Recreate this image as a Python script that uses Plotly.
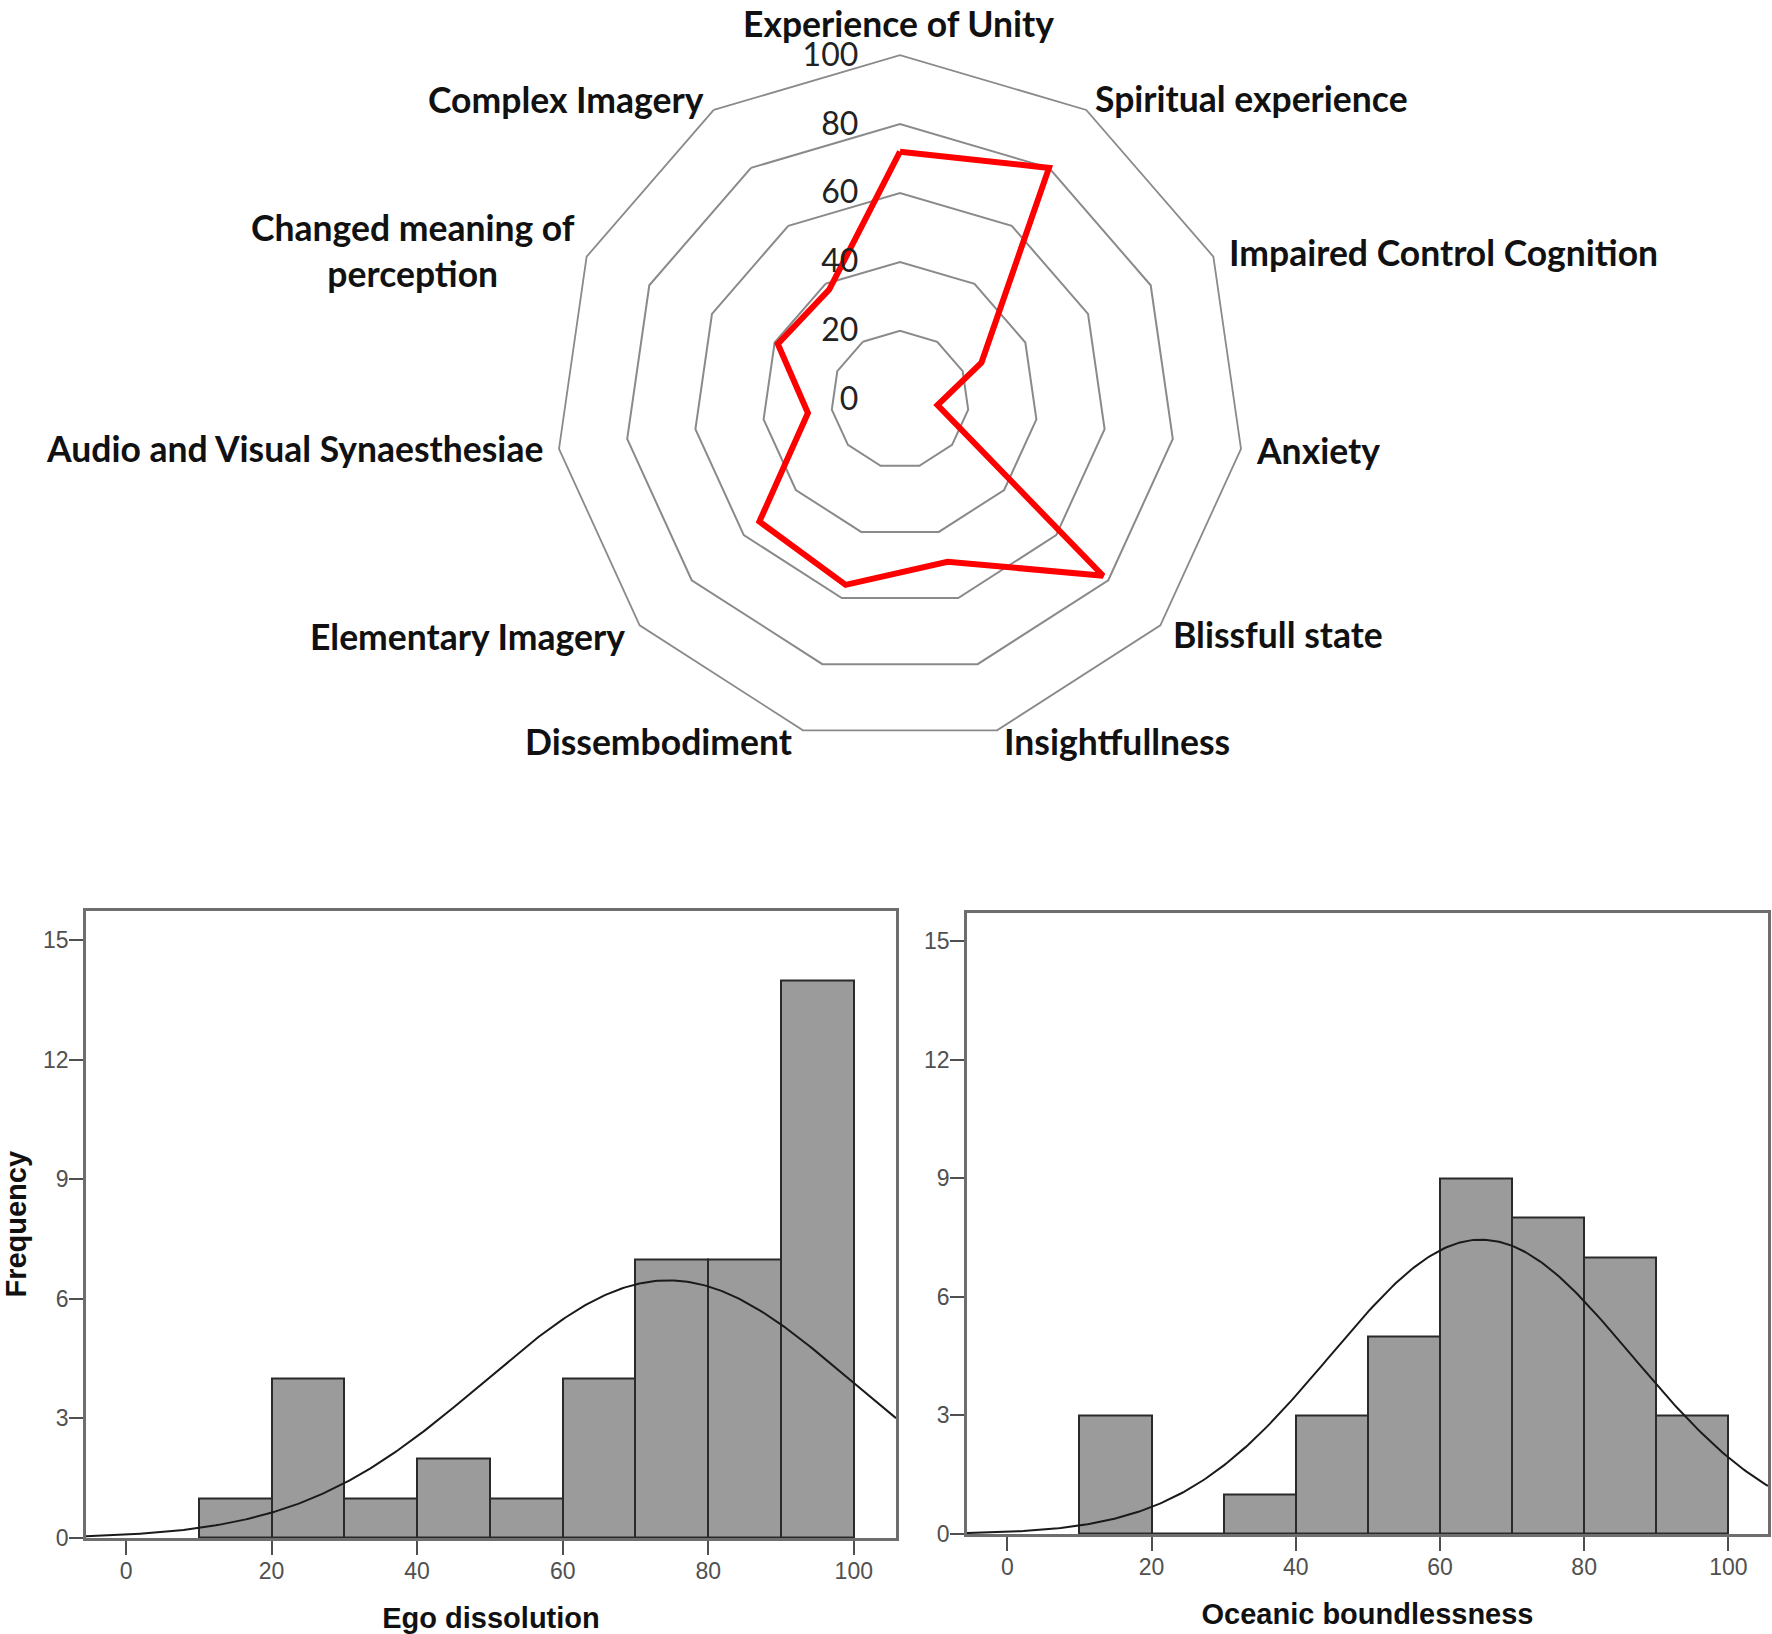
import numpy as np
import plotly.graph_objects as go

# ---------------- Radar data ----------------
radar_categories = [
    "Experience of Unity", "Spiritual experience", "Impaired Control Cognition",
    "Anxiety", "Blissfull state", "Insightfullness", "Dissembodiment",
    "Elementary Imagery", "Audio and Visual Synaesthesiae",
    "Changed meaning of<br>perception", "Complex Imagery",
]
radar_values = [72, 80, 26, 11, 78, 49, 56, 54, 27, 39, 38]
radar_ticks = [0, 20, 40, 60, 80, 100]

# ---------------- Histogram data ----------------
bin_centers = [15, 25, 35, 45, 55, 65, 75, 85, 95]
ego_counts = [1, 4, 1, 2, 1, 4, 7, 7, 14]
oceanic_counts = [3, 0, 1, 3, 5, 9, 8, 7, 3]
hist_xticks = [0, 20, 40, 60, 80, 100]
hist_yticks = [0, 3, 6, 9, 12, 15]

# normal-curve parameters (mean, sd, n)
ego_mean, ego_sd, ego_n = 74.5, 25.3, 41
oce_mean, oce_sd, oce_n = 65.7, 20.9, 39
bin_width = 10

# ---------------- layout (reference pixels) ----------------
W, H = 1772, 1634          # reference picture size, used for paper fractions
FIG_W, FIG_H = 1772, 1648  # page size of the figure
# label placement for the radar categories: (x px, y px, xanchor, yanchor)
radar_label_layout = [
    (898, 0, "center", "top"), (1093, 98, "left", "middle"), (1227, 252, "left", "middle"),
    (1254, 450, "left", "middle"), (1171, 634, "left", "middle"), (1002, 741, "left", "middle"),
    (795, 741, "right", "middle"), (627, 636, "right", "middle"), (545, 448, "right", "middle"),
    (413, 250, "center", "middle"), (706, 99, "right", "middle"),
]


def px_x(p):
    return p / W


def px_y(p):
    return 1 - p / H


fig = go.Figure()

# radar
fig.add_trace(go.Scatterpolar(
    r=radar_values + radar_values[:1],
    theta=radar_categories + radar_categories[:1],
    mode="lines",
    line=dict(color="#ff0000", width=6),
    subplot="polar",
    showlegend=False,
    hoverinfo="skip",
))


def normal_curve(mean, sd, n, x0, x1):
    xs = np.linspace(x0, x1, 300)
    ys = n * bin_width / (sd * np.sqrt(2 * np.pi)) * np.exp(-0.5 * ((xs - mean) / sd) ** 2)
    return xs, ys


bar_style = dict(marker=dict(color="#9b9b9b", line=dict(color="#2a2a2a", width=2)),
                 width=bin_width, showlegend=False)

fig.add_trace(go.Bar(x=bin_centers, y=ego_counts, xaxis="x", yaxis="y", **bar_style))
xs, ys = normal_curve(ego_mean, ego_sd, ego_n, -5.5, 105.8)
fig.add_trace(go.Scatter(x=xs, y=ys, mode="lines", line=dict(color="#1a1a1a", width=2),
                         xaxis="x", yaxis="y", showlegend=False))

fig.add_trace(go.Bar(x=bin_centers, y=oceanic_counts, xaxis="x2", yaxis="y2", **bar_style))
xs, ys = normal_curve(oce_mean, oce_sd, oce_n, -5.6, 105.5)
fig.add_trace(go.Scatter(x=xs, y=ys, mode="lines", line=dict(color="#1a1a1a", width=2),
                         xaxis="x2", yaxis="y2", showlegend=False))

cx, cy, R = 900, 399.5, 344.5

tick_font = dict(family="Liberation Sans, Arial, sans-serif", size=23, color="#505050")
title_font = dict(family="Liberation Sans, Arial, sans-serif", size=29, color="#111111", weight="bold")

common_x = dict(tickvals=hist_xticks, ticks="outside", ticklen=14, tickwidth=2, tickcolor="#505050",
                showline=True, linecolor="#6e6e6e", linewidth=2.5, mirror=True, showgrid=False,
                zeroline=False, tickfont=tick_font, title_font=title_font, title_standoff=25,
                ticklabelstandoff=-3)
common_y = dict(tickvals=hist_yticks, ticks="outside", ticklen=14, tickwidth=2, tickcolor="#505050",
                showline=True, linecolor="#6e6e6e", linewidth=2.5, mirror=True, showgrid=False,
                zeroline=False, tickfont=tick_font, title_font=title_font, ticklabelstandoff=-4)

annotations = []
for cat, (lx, ly, xanc, yanc) in zip(radar_categories, radar_label_layout):
    annotations.append(dict(
        text=cat, x=px_x(lx), y=px_y(ly), xref="paper", yref="paper",
        xanchor=xanc, yanchor=yanc, align="center", showarrow=False,
        font=dict(family="Lato, sans-serif", size=35.5, color="#111111", weight="bold"),
    ))

fig.update_layout(
    width=FIG_W, height=FIG_H,
    margin=dict(l=0, r=0, t=0, b=0, pad=0),
    paper_bgcolor="white", plot_bgcolor="white",
    bargap=0,
    annotations=annotations,
    polar=dict(
        domain=dict(x=[px_x(cx - R), px_x(cx + R)], y=[px_y(cy + R), px_y(cy - R)]),
        gridshape="linear",
        bgcolor="white",
        angularaxis=dict(
            rotation=90, direction="clockwise", showgrid=False,
            showline=True, linecolor="#8a8a8a", linewidth=1.8,
            ticks="", showticklabels=False,
        ),
        radialaxis=dict(
            range=[0, 100], tickvals=radar_ticks, angle=90, side="counterclockwise",
            showline=False, gridcolor="#8a8a8a", gridwidth=1.8, tickangle=90,
            ticks="outside", ticklen=30, tickcolor="rgba(0,0,0,0)",
            tickfont=dict(family="Lato, sans-serif", size=32, color="#222222"),
        ),
    ),
    xaxis=dict(domain=[px_x(86), px_x(896)], range=[-5.5, 105.8], anchor="y",
               title_text="Ego dissolution", **common_x),
    yaxis=dict(domain=[px_y(1537), px_y(910)], range=[0, 15.75], anchor="x",
               title_text="Frequency", title_standoff=21, **common_y),
    xaxis2=dict(domain=[px_x(967), px_x(1768)], range=[-5.6, 105.5], anchor="y2",
                title_text="Oceanic boundlessness", **common_x),
    yaxis2=dict(domain=[px_y(1533), px_y(912)], range=[0, 15.72], anchor="x2", **common_y),
)

# remove the default page margin so the page is exactly the figure's size
pin_script = (
    "document.documentElement.style.margin='0px';"
    "document.body.style.margin='0px';"
)
fig.write_html("out.html", config={"displayModeBar": False}, post_script=pin_script)
